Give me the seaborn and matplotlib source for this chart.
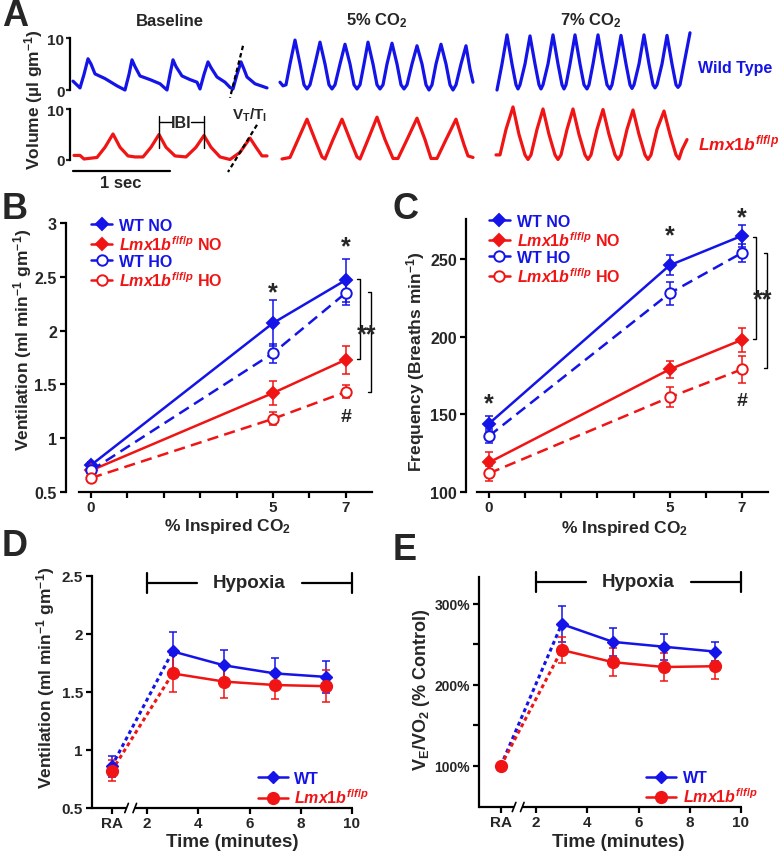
import numpy as np
import pandas as pd
import matplotlib
matplotlib.use("Agg")
import matplotlib.pyplot as plt
import seaborn as sns
from matplotlib.lines import Line2D
from matplotlib.ticker import FixedLocator, FixedFormatter

# ---------------- data ----------------
FS = 97.0  # trace samples per second

# Panel A: plethysmograph traces (sample index, volume ul/g)
bl_wt_t = [0, 7, 11, 15, 18, 22, 32, 44, 52, 56, 59, 62, 67, 77, 87, 94, 97, 100, 103, 109, 117, 124, 127,
           131, 135, 138, 144, 152, 157, 160, 164, 168, 171, 174, 182, 194]
bl_wt_v = [1.7, 0.4, 3.0, 6.0, 5.0, 3.1, 2.2, 0.8, 0.0, 3.0, 5.8, 4.5, 2.7, 2.0, 1.2, 0.0, 3.0, 5.8, 4.5, 2.7,
           2.0, 1.5, 0.2, 3.0, 5.4, 4.3, 2.5, 1.5, 0.5, 0.2, 3.0, 5.4, 4.0, 2.5, 1.2, 0.4]
bl_ko_t = [1, 7, 11, 24, 32, 40, 47, 55, 62, 70, 78, 86, 93, 102, 113, 123, 131, 138, 147, 157, 167, 177, 183,
           189, 194]
bl_ko_v = [0.9, 0.9, 0.2, 0.5, 2.5, 5.1, 2.5, 0.8, 0.6, 0.6, 2.5, 5.0, 2.5, 0.8, 0.6, 2.5, 4.8, 2.5, 0.6, 0.1,
           1.5, 4.3, 2.5, 0.8, 0.8]
c5_wt_t = [2, 5, 8, 12, 17, 22, 26, 29, 32, 37, 42, 47, 51, 54, 57, 62, 67, 72, 76, 79, 82, 86, 90, 95, 99, 102,
           105, 109, 114, 119, 123, 126, 129, 134, 139, 144, 148, 151, 154, 158, 163, 168, 172, 175, 178, 183,
           188, 192, 195]
c5_wt_v = [1.5, 0.8, 1.0, 5, 9.6, 5, 1, 0.2, 1, 5, 9.2, 5, 1, 0.2, 1, 5, 8.8, 5, 1, 0.2, 1, 5, 9.2, 5, 1, 0.2,
           1, 5, 9.0, 5, 1, 0.2, 1, 5, 8.5, 5, 1, 0.0, 1, 5, 8.8, 5, 1, 0.0, 1, 5, 8.5, 4, 1.5]
c5_ko_t = [4, 12, 20, 29, 37, 44, 47, 55, 64, 72, 79, 82, 90, 99, 107, 115, 120, 129, 139, 147, 153, 159, 168,
           178, 186, 190, 195]
c5_ko_v = [0.2, 0.5, 4, 8.0, 4, 0.6, 0.2, 4, 8.0, 4, 0.6, 0.2, 4, 8.4, 4, 0.3, 0.3, 4, 8.2, 4, 0.3, 0.3, 4,
           8.0, 3, 0.8, 0.5]
c7_wt_t = [1, 6, 11, 16, 20, 22, 24, 29, 34, 39, 43, 45, 47, 52, 57, 62, 66, 68, 70, 74, 79, 84, 88, 91, 93, 97,
           102, 107, 111, 114, 116, 120, 125, 130, 134, 136, 138, 143, 148, 153, 157, 159, 161, 166, 171, 176,
           180, 182, 184, 189, 194]
c7_wt_v = [0.0, 5, 10.6, 5, 1, 0.2, 1, 5, 10.4, 5, 1, 0.2, 1, 5, 10.6, 5, 1, 0.2, 1, 5, 10.6, 5, 1, 0.2, 1, 5,
           10.6, 5, 1, 0.2, 1, 5, 10.5, 5, 1, 0.3, 1, 5, 10.6, 5, 1, 0.4, 1, 5, 10.5, 5, 1, 0.5, 1, 6, 11]
c7_ko_t = [0, 4, 10, 17, 23, 29, 32, 35, 41, 47, 53, 59, 62, 65, 71, 77, 83, 89, 92, 95, 101, 107, 113, 119,
           122, 125, 131, 137, 143, 149, 152, 155, 161, 168, 174, 180, 183, 186, 191]
c7_ko_v = [1.0, 1.0, 6, 10.4, 5, 1, 0.1, 1, 6, 10.0, 5, 1, 0.1, 1, 6, 10.0, 5, 1, 0.1, 1, 6, 9.9, 5, 1, 0.1, 1,
           6, 9.8, 5, 1, 0.1, 1, 6, 9.6, 5, 1, 0.2, 2, 4]

# Panel B: ventilation vs inspired CO2
co2 = [0, 5, 7]
vent_wt_no = [0.75, 2.07, 2.47]
vent_wt_no_err = [0.03, 0.21, 0.20]
vent_ko_no = [0.70, 1.42, 1.73]
vent_ko_no_err = [0.03, 0.11, 0.13]
vent_wt_ho = [0.70, 1.79, 2.35]
vent_wt_ho_err = [0.03, 0.09, 0.11]
vent_ko_ho = [0.63, 1.18, 1.43]
vent_ko_ho_err = [0.03, 0.06, 0.06]

# Panel C: frequency vs inspired CO2
freq_wt_no = [144, 246, 265]
freq_wt_no_err = [5, 6.5, 7]
freq_ko_no = [119, 179, 198]
freq_ko_no_err = [7, 5.5, 7.6]
freq_wt_ho = [136, 228, 254]
freq_wt_ho_err = [4.5, 7.5, 6]
freq_ko_ho = [112, 161, 179]
freq_ko_ho_err = [5, 6.5, 8.5]

# Panels D/E: hypoxia time course
hyp_time = [3, 5, 7, 9]
time_ticks = [2, 4, 6, 8, 10]
d_wt_ra, d_wt_ra_err = 0.86, 0.09
d_ko_ra, d_ko_ra_err = 0.82, 0.09
d_wt = [1.85, 1.73, 1.66, 1.63]
d_wt_err = [0.17, 0.13, 0.13, 0.14]
d_ko = [1.66, 1.59, 1.56, 1.55]
d_ko_err = [0.16, 0.14, 0.12, 0.14]
e_wt_ra, e_ko_ra = 100, 100
e_wt = [275, 253, 247, 241]
e_wt_err = [22.5, 17, 16, 12]
e_ko = [243, 228, 222, 223]
e_ko_err = [16, 17, 17, 16]

# ---------------- style ----------------
sns.set_theme(style="ticks")
plt.rcParams["font.family"] = ["Liberation Sans", "DejaVu Sans"]
plt.rcParams["font.weight"] = "bold"
plt.rcParams["axes.labelweight"] = "bold"
plt.rcParams["mathtext.fontset"] = "custom"
plt.rcParams["mathtext.rm"] = "Liberation Sans:bold"
plt.rcParams["mathtext.bf"] = "Liberation Sans:bold"
plt.rcParams["mathtext.it"] = "Liberation Sans:italic:bold"
plt.rcParams["mathtext.sf"] = "Liberation Sans:bold"

BLUE = "#1414e8"
RED = "#f01414"
W, H = 781, 853
fig = plt.figure(figsize=(W / 100, H / 100), dpi=100)
fig.patch.set_facecolor("white")


def add_ax(l, t, r, b):
    return fig.add_axes([l / W, 1 - b / H, (r - l) / W, (b - t) / H])


def ftext(x, y, s, **kw):
    kw.setdefault("ha", "center")
    kw.setdefault("va", "center")
    kw.setdefault("fontweight", "bold")
    return fig.text(x / W, 1 - y / H, s, **kw)


SPW = 1.6

# ---------------- Panel A ----------------
rows = [(91, 5.2), (161, 5.1)]
cols = [(70, 270, -3), (278, 475, 0), (496, 693, 0)]
traces = [[(bl_wt_t, bl_wt_v), (c5_wt_t, c5_wt_v), (c7_wt_t, c7_wt_v)],
          [(bl_ko_t, bl_ko_v), (c5_ko_t, c5_ko_v), (c7_ko_t, c7_ko_v)]]
axA = {}
for ri, (zero, sc) in enumerate(rows):
    for ci, (l, r, off) in enumerate(cols):
        ax = add_ax(l, zero - 11.5 * sc, r, zero + 1.5 * sc)
        ax.set_xlim(off / FS, (off + (r - l)) / FS)
        ax.set_ylim(-1.5, 11.5)
        ax.patch.set_alpha(0)
        tt, vv = traces[ri][ci]
        ax.plot(np.array(tt) / FS, vv, color=BLUE if ri == 0 else RED, lw=2.3, clip_on=False,
                solid_joinstyle="round", solid_capstyle="round")
        for s in ["top", "right", "bottom"]:
            ax.spines[s].set_visible(False)
        ax.set_xticks([])
        if ci == 0:
            ax.spines["left"].set_bounds(0, 10)
            ax.spines["left"].set_linewidth(SPW)
            ax.spines["left"].set_color("black")
            ax.set_yticks([0, 10])
            ax.tick_params(axis="y", length=3, width=SPW, labelsize=11, pad=1)
        else:
            ax.spines["left"].set_visible(False)
            ax.set_yticks([])
        axA[(ri, ci)] = ax

a1, a2 = axA[(0, 0)], axA[(1, 0)]
a1.plot([170 / FS, 157 / FS], [8.5, -1.5], color="black", lw=1.6, ls=(0, (2, 1.4)), clip_on=False)
a2.plot([184 / FS, 155 / FS], [6.9, -2.35], color="black", lw=1.6, ls=(0, (2, 1.4)), clip_on=False)
for xs in (86, 131):
    a2.plot([xs / FS, xs / FS], [2.35, 8.6], color="black", lw=1.0, clip_on=False)
a2.plot([86 / FS, 99 / FS], [7.45, 7.45], color="black", lw=1.0, clip_on=False)
a2.plot([118 / FS, 131 / FS], [7.45, 7.45], color="black", lw=1.0, clip_on=False)
a2.text(108.5 / FS, 7.45, "IBI", ha="center", va="center", fontsize=11.5, fontweight="bold")
a2.plot([0, 1.0], [-2.16, -2.16], color="black", lw=1.6, clip_on=False)

ftext(170, 22, "Baseline", fontsize=12)
ftext(377, 21, "5% CO$_2$", fontsize=12)
ftext(591, 21, "7% CO$_2$", fontsize=12)
ftext(121, 184, "1 sec", fontsize=12)
ftext(250, 115, "V$_\\mathrm{T}$/T$_\\mathrm{I}$", fontsize=11)
ftext(34, 100, "Volume (\u00b5l gm$^{-1}$)", fontsize=12.5, rotation=90)
ftext(698, 69, "Wild Type", fontsize=11.5, color=BLUE, ha="left")
ftext(698, 143, "$\\mathit{Lmx1b}^{\\mathit{f/f/p}}$", fontsize=12.5, color=RED, ha="left")

# ---------------- helpers for B/C ----------------
series_styles = [
    ("WT NO", BLUE, "D", BLUE, "-", 6.0),
    ("$\\mathit{Lmx1b}^{\\mathit{f/f/p}}$ NO", RED, "D", RED, "-", 6.0),
    ("WT HO", BLUE, "o", "white", (0, (4.5, 2.5)), 7.5),
    ("$\\mathit{Lmx1b}^{\\mathit{f/f/p}}$ HO", RED, "o", "white", (0, (4.5, 2.5)), 7.5),
]


def style_axis(ax, ylab_size):
    for s in ["top", "right"]:
        ax.spines[s].set_visible(False)
    for s in ["left", "bottom"]:
        ax.spines[s].set_linewidth(SPW)
        ax.spines[s].set_color("black")
    ax.tick_params(axis="both", length=4, width=SPW, labelsize=11, color="black", direction="out")
    ax.tick_params(axis="x", pad=2)
    ax.tick_params(axis="y", labelsize=ylab_size, pad=2.5)
    ax.patch.set_alpha(0)
    ax.grid(False)


def co2_panel(ax, vals, errs, ylim, yticks, offset_pt):
    for (lab, col, mk, mfc, ls, ms), v, e in zip(series_styles, vals, errs):
        ax.errorbar(co2, v, yerr=e, fmt="none", ecolor=col, elinewidth=1.1, capsize=2.6, capthick=1.1,
                    zorder=2)
        sns.lineplot(x=co2, y=v, ax=ax, color=col, lw=1.8, linestyle=ls, marker=mk, markersize=ms,
                     markerfacecolor=mfc, markeredgecolor=col, markeredgewidth=1.4, errorbar=None,
                     zorder=3)
    ax.set_xlim(-0.33, 7.72)
    ax.set_ylim(*ylim)
    style_axis(ax, 11.5)
    ax.spines["left"].set_position(("outward", offset_pt))
    ax.set_yticks(yticks)
    ax.set_yticklabels([("%g" % t) for t in yticks])
    ax.xaxis.set_major_locator(FixedLocator(list(range(8))))
    ax.xaxis.set_major_formatter(FixedFormatter(["0", "", "", "", "", "5", "", "7"]))
    ax.set_xlabel("")
    ax.set_ylabel("")
    handles = [Line2D([], [], color=col, lw=1.8, marker=mk, ms=ms, mfc=mfc, mec=col, mew=1.4)
               for (lab, col, mk, mfc, ls, ms) in series_styles]
    leg = ax.legend(handles, [s[0] for s in series_styles], loc="upper left",
                    bbox_to_anchor=(0.04, 1.02), frameon=False,
                    prop=dict(weight="bold", size=11.5), handlelength=1.35, handletextpad=0.45,
                    labelspacing=0.08, borderpad=0, borderaxespad=0)
    for t, s in zip(leg.get_texts(), series_styles):
        t.set_color(s[1])


def bracket(ax, x, y0, y1, dx):
    ax.plot([x - dx, x, x, x - dx], [y0, y0, y1, y1], color="black", lw=1.0, clip_on=False, zorder=1)


# ---------------- Panel B ----------------
axB = add_ax(79, 224, 372, 493)
co2_panel(axB, [vent_wt_no, vent_ko_no, vent_wt_ho, vent_ko_ho],
          [vent_wt_no_err, vent_ko_no_err, vent_wt_ho_err, vent_ko_ho_err],
          (0.5, 3.0), [0.5, 1, 1.5, 2, 2.5, 3], 9.4)
axB.text(5, 2.36, "*", ha="center", va="center", fontsize=18, fontweight="bold")
axB.text(7, 2.78, "*", ha="center", va="center", fontsize=18, fontweight="bold")
bracket(axB, 7.39, 2.48, 1.74, 0.08)
bracket(axB, 7.69, 2.36, 1.43, 0.08)
axB.text(7.57, 1.97, "**", ha="center", va="center", fontsize=18, fontweight="bold", zorder=5)
axB.text(7, 1.20, "#", ha="center", va="center", fontsize=14, fontweight="bold")
ftext(228, 527, "% Inspired CO$_2$", fontsize=12.5)
ftext(23, 340, "Ventilation (ml min$^{-1}$ gm$^{-1}$)", fontsize=12.5, rotation=90)

# ---------------- Panel C ----------------
axC = add_ax(477, 220, 768, 493)
co2_panel(axC, [freq_wt_no, freq_ko_no, freq_wt_ho, freq_ko_ho],
          [freq_wt_no_err, freq_ko_no_err, freq_wt_ho_err, freq_ko_ho_err],
          (100, 275.8), [100, 150, 200, 250], 8.0)
axC.text(0, 157, "*", ha="center", va="center", fontsize=18, fontweight="bold")
axC.text(5, 265, "*", ha="center", va="center", fontsize=18, fontweight="bold")
axC.text(7, 277, "*", ha="center", va="center", fontsize=18, fontweight="bold")
bracket(axC, 7.38, 264, 198.5, 0.08)
bracket(axC, 7.70, 254, 180, 0.08)
axC.text(7.57, 224, "**", ha="center", va="center", fontsize=18, fontweight="bold", zorder=5)
axC.text(7, 158.6, "#", ha="center", va="center", fontsize=14, fontweight="bold")
ftext(625, 528, "% Inspired CO$_2$", fontsize=12.5)
ftext(416, 362, "Frequency (Breaths min$^{-1}$)", fontsize=12.5, rotation=90)

# ---------------- Panels D/E ----------------
RA_POS = 0.62


def hyp_panel(ax, ra_vals, ra_errs, wt, wt_err, ko, ko_err, xlim, ylim, hyp_y, hyp_tick, brk, ylab_size):
    groups = [(BLUE, "D", 6.0, ra_vals[0], ra_errs[0], wt, wt_err),
              (RED, "o", 8.5, ra_vals[1], ra_errs[1], ko, ko_err)]
    for col, mk, ms, rv, re_, v, e in groups:
        ax.errorbar([RA_POS] + hyp_time, [rv] + v, yerr=[re_] + e, fmt="none", ecolor=col,
                    elinewidth=1.1, capsize=2.6, capthick=1.1, zorder=2)
        ax.plot([RA_POS, hyp_time[0]], [rv, v[0]], color=col, lw=2.2, ls=(0, (1.3, 1.1)), zorder=3)
        sns.lineplot(x=hyp_time, y=v, ax=ax, color=col, lw=1.8, marker=mk, markersize=ms,
                     markerfacecolor=col, markeredgecolor=col, markeredgewidth=1.0, errorbar=None,
                     zorder=4)
        ax.plot([RA_POS], [rv], color=col, marker=mk, ms=ms, mec=col, mfc=col, zorder=4)
    ax.set_xlim(*xlim)
    ax.set_ylim(*ylim)
    style_axis(ax, ylab_size)
    ax.spines["bottom"].set_visible(False)
    tr = ax.get_xaxis_transform()
    ax.plot([xlim[0], brk[0]], [0, 0], color="black", lw=SPW, transform=tr, clip_on=False,
            solid_capstyle="butt")
    ax.plot([brk[1], xlim[1]], [0, 0], color="black", lw=SPW, transform=tr, clip_on=False,
            solid_capstyle="butt")
    for bx in brk:
        ax.plot([bx - 0.07, bx + 0.07], [-0.02, 0.02], color="black", lw=1.2, transform=tr, clip_on=False)
    ax.xaxis.set_major_locator(FixedLocator([RA_POS] + time_ticks))
    ax.xaxis.set_major_formatter(FixedFormatter(["RA"] + [str(t) for t in time_ticks]))
    ax.set_xlabel("")
    ax.set_ylabel("")
    # hypoxia bar
    for xs in ([2, 3.95], [8.05, 10]):
        ax.plot(xs, [hyp_y, hyp_y], color="black", lw=1.6, clip_on=False)
    for xv in (2, 10):
        ax.plot([xv, xv], [hyp_y - hyp_tick, hyp_y + hyp_tick], color="black", lw=1.6, clip_on=False)
    ax.text(6.0, hyp_y, "Hypoxia", ha="center", va="center", fontsize=13.5, fontweight="bold")
    handles = [Line2D([], [], color=BLUE, lw=1.8, marker="D", ms=6.0, mfc=BLUE, mec=BLUE),
               Line2D([], [], color=RED, lw=1.8, marker="o", ms=8.5, mfc=RED, mec=RED)]
    leg = ax.legend(handles, ["WT", "$\\mathit{Lmx1b}^{\\mathit{f/f/p}}$"], loc="upper left",
                    bbox_to_anchor=(0.635, 0.16), frameon=False, prop=dict(weight="bold", size=11.5),
                    handlelength=1.9, handletextpad=0.4, labelspacing=0.1, borderpad=0, borderaxespad=0)
    leg.get_texts()[0].set_color(BLUE)
    leg.get_texts()[1].set_color(RED)


axD = add_ax(92, 577, 353, 809)
hyp_panel(axD, (d_wt_ra, d_ko_ra), (d_wt_ra_err, d_ko_ra_err), d_wt, d_wt_err, d_ko, d_ko_err,
          (-0.15, 10.04), (0.5, 2.5), 2.44, 0.086, (1.2, 1.52), 11)
axD.set_yticks([0.5, 1, 1.5, 2, 2.5])
axD.set_yticklabels(["0.5", "1", "1.5", "2", "2.5"])
ftext(232, 843, "Time (minutes)", fontsize=13.5)
ftext(46, 678, "Ventilation (ml min$^{-1}$ gm$^{-1}$)", fontsize=12.5, rotation=90)

axE = add_ax(479, 578, 742, 808)
hyp_panel(axE, (e_wt_ra, e_ko_ra), (0, 0), e_wt, e_wt_err, e_ko, e_ko_err,
          (-0.23, 10.04), (49.4, 333), 327, 12.3, (1.14, 1.46), 10)
axE.yaxis.set_major_locator(FixedLocator([100, 150, 200, 250, 300]))
axE.yaxis.set_major_formatter(FixedFormatter(["100%", "", "200%", "", "300%"]))
ftext(618, 843, "Time (minutes)", fontsize=13.5)
ftext(421, 690, "V$_\\mathrm{E}$/VO$_2$ (% Control)", fontsize=13, rotation=90)

# panel letters
for s, x, y in [("A", 2, 16), ("B", 2, 210), ("C", 393, 210), ("D", 2, 546), ("E", 393, 550)]:
    ftext(x, y, s, fontsize=26, ha="left")

fig.savefig("out.png", dpi=100)
